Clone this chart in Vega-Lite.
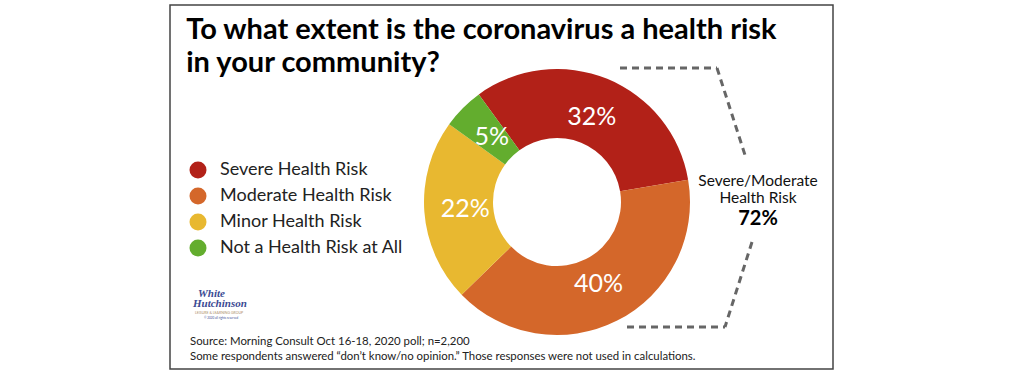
{
  "$schema": "https://vega.github.io/schema/vega-lite/v6.json",
  "autosize": "none",
  "width": 300,
  "height": 300,
  "padding": {"left": 407, "top": 52, "right": 317, "bottom": 25},
  "background": "white",
  "title": {
    "text": ["To what extent is the coronavirus a health risk", "in your community?"],
    "anchor": "start",
    "frame": "bounds",
    "orient": "top",
    "offset": 0,
    "dx": 17,
    "dy": 97,
    "baseline": "alphabetic",
    "lineHeight": 33,
    "font": "Lato",
    "fontSize": 29,
    "fontWeight": "bold",
    "color": "#000000"
  },
  "config": {"view": {"stroke": null}},
  "datasets": {
    "risk": [
      {"category": "Severe Health Risk", "pct": 32, "label": "32%", "rank": 1},
      {"category": "Moderate Health Risk", "pct": 40, "label": "40%", "rank": 2},
      {"category": "Minor Health Risk", "pct": 22, "label": "22%", "rank": 3},
      {"category": "Not a Health Risk at All", "pct": 5, "label": "5%", "rank": 4}
    ]
  },
  "layer": [
    {
      "data": {"values": [{}]},
      "mark": {"type": "rect", "fill": "transparent", "stroke": "#444444", "strokeWidth": 1.5},
      "encoding": {
        "x": {"value": -237},
        "x2": {"value": 426},
        "y": {"value": -47},
        "y2": {"value": 317}
      }
    },
    {
      "data": {"name": "risk"},
      "mark": {"type": "arc", "radius": 133, "radius2": 64},
      "encoding": {
        "theta": {"field": "pct", "type": "quantitative", "stack": true, "scale": {"range": [-0.6283, 5.6549]}},
        "order": {"field": "rank", "type": "quantitative"},
        "color": {
          "field": "category",
          "type": "nominal",
          "scale": {
            "domain": ["Severe Health Risk", "Moderate Health Risk", "Minor Health Risk", "Not a Health Risk at All"],
            "range": ["#B22118", "#D4672A", "#E8B830", "#63AD2E"]
          },
          "legend": {
            "orient": "none",
            "legendX": -218,
            "legendY": 109,
            "title": null,
            "symbolType": "circle",
            "symbolSize": 289,
            "symbolStrokeWidth": 0,
            "symbolOpacity": 1,
            "labelFont": "Lato",
            "labelFontSize": 18,
            "labelColor": "#222222",
            "labelOffset": 13,
            "rowPadding": 8,
            "labelLimit": 400
          }
        }
      }
    },
    {
      "data": {"name": "risk"},
      "mark": {"type": "text", "radius": 92, "font": "Lato", "fontSize": 25, "color": "#ffffff"},
      "encoding": {
        "theta": {"field": "pct", "type": "quantitative", "stack": true},
        "order": {"field": "rank", "type": "quantitative"},
        "text": {"field": "label", "type": "nominal"}
      }
    },
    {
      "data": {"values": [{}]},
      "mark": {"type": "rule", "color": "#666666", "strokeWidth": 3, "strokeDash": [7, 5]},
      "encoding": {"x": {"value": 213}, "x2": {"value": 310}, "y": {"value": 16}, "y2": {"value": 16}}
    },
    {
      "data": {"values": [{}]},
      "mark": {"type": "rule", "color": "#666666", "strokeWidth": 3, "strokeDash": [7, 5]},
      "encoding": {"x": {"value": 310}, "x2": {"value": 338}, "y": {"value": 16}, "y2": {"value": 103}}
    },
    {
      "data": {"values": [{}]},
      "mark": {"type": "rule", "color": "#666666", "strokeWidth": 3, "strokeDash": [7, 5]},
      "encoding": {"x": {"value": 345}, "x2": {"value": 318}, "y": {"value": 190}, "y2": {"value": 275}}
    },
    {
      "data": {"values": [{}]},
      "mark": {"type": "rule", "color": "#666666", "strokeWidth": 3, "strokeDash": [7, 5]},
      "encoding": {"x": {"value": 220}, "x2": {"value": 318}, "y": {"value": 275}, "y2": {"value": 275}}
    },
    {
      "data": {"values": [{"t": ["Severe/Moderate", "Health Risk"]}]},
      "mark": {"type": "text", "align": "center", "baseline": "alphabetic", "font": "Lato", "fontSize": 15.5, "lineHeight": 17, "color": "#111111"},
      "encoding": {"text": {"field": "t"}, "x": {"value": 351}, "y": {"value": 134}}
    },
    {
      "data": {"values": [{"t": "72%"}]},
      "mark": {"type": "text", "align": "center", "baseline": "alphabetic", "font": "Lato", "fontSize": 20, "fontWeight": "bold", "color": "#000000"},
      "encoding": {"text": {"field": "t"}, "x": {"value": 351}, "y": {"value": 173}}
    },
    {
      "data": {"values": [{"t": ["Source: Morning Consult Oct 16-18, 2020 poll; n=2,200", "Some respondents answered \u201cdon\u2019t know/no opinion.\u201d Those responses were not used in calculations."]}]},
      "mark": {"type": "text", "align": "left", "baseline": "alphabetic", "font": "Lato", "fontSize": 11.4, "lineHeight": 15, "color": "#222222"},
      "encoding": {"text": {"field": "t"}, "x": {"value": -217}, "y": {"value": 293}}
    },
    {
      "data": {"values": [{"t": "White"}]},
      "mark": {"type": "text", "align": "left", "baseline": "alphabetic", "font": "Liberation Sans Narrow", "fontSize": 11, "fontStyle": "italic", "fontWeight": "bold", "color": "#3B4A93"},
      "encoding": {"text": {"field": "t"}, "x": {"value": -209}, "y": {"value": 245}}
    },
    {
      "data": {"values": [{"t": "Hutchinson"}]},
      "mark": {"type": "text", "align": "left", "baseline": "alphabetic", "font": "Liberation Sans Narrow", "fontSize": 11, "fontStyle": "italic", "fontWeight": "bold", "color": "#3B4A93"},
      "encoding": {"text": {"field": "t"}, "x": {"value": -214}, "y": {"value": 255}}
    },
    {
      "data": {"values": [{"t": "LEISURE & LEARNING GROUP"}]},
      "mark": {"type": "text", "align": "left", "baseline": "alphabetic", "font": "Lato", "fontSize": 3.5, "color": "#B08F6A"},
      "encoding": {"text": {"field": "t"}, "x": {"value": -212}, "y": {"value": 262}}
    },
    {
      "data": {"values": [{"t": "\u00a9 2020 all rights reserved"}]},
      "mark": {"type": "text", "align": "left", "baseline": "alphabetic", "font": "Lato", "fontSize": 3, "color": "#3B4A93"},
      "encoding": {"text": {"field": "t"}, "x": {"value": -203}, "y": {"value": 267}}
    }
  ]
}
